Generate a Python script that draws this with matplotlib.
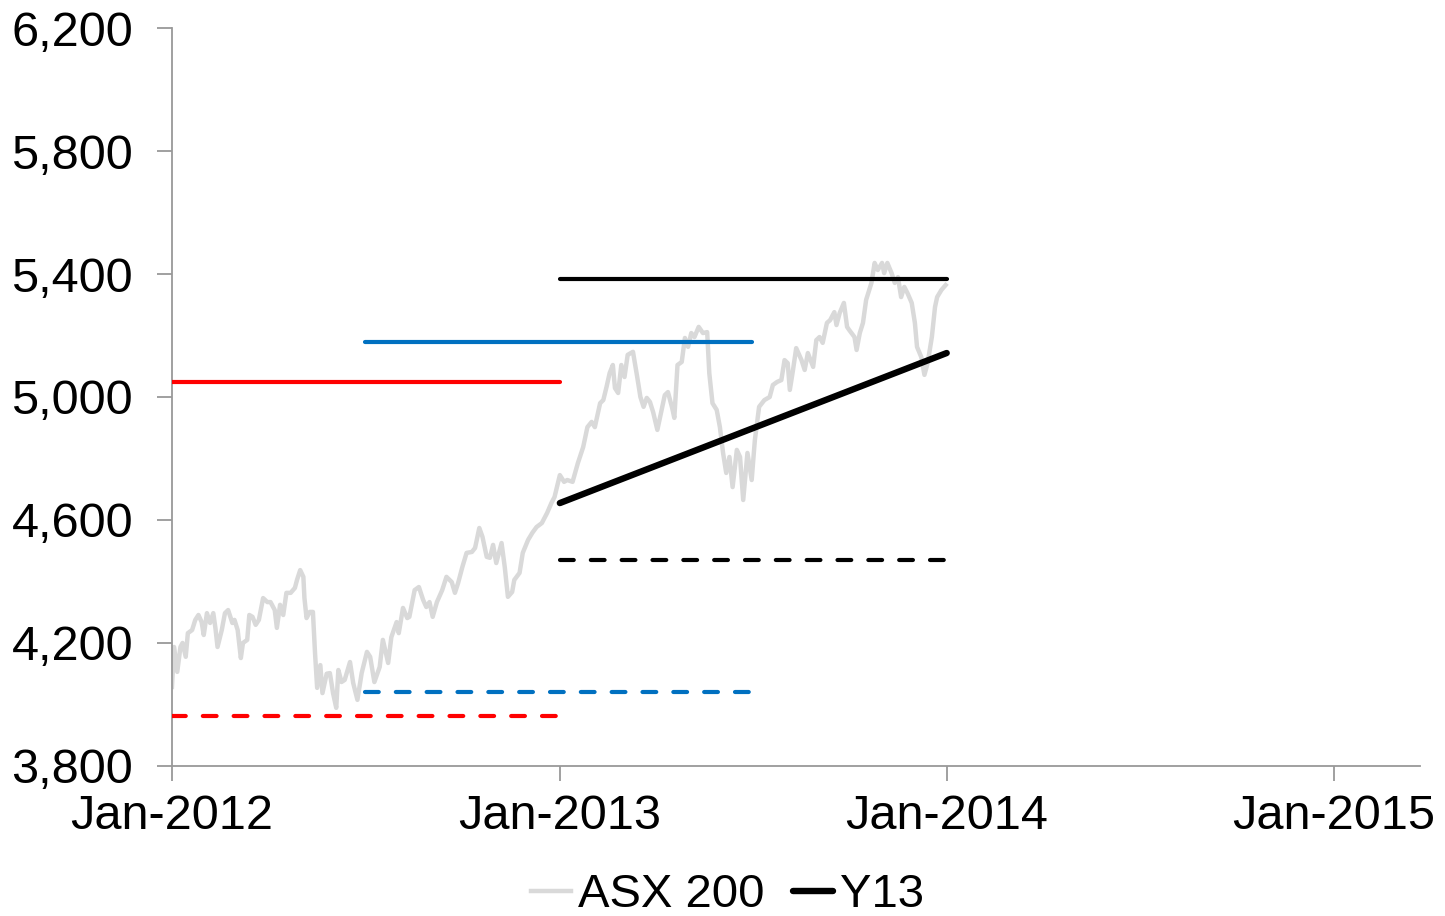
import matplotlib
matplotlib.use("Agg")
import matplotlib.pyplot as plt
import matplotlib.dates as mdates
import matplotlib.ticker as mticker
import pandas as pd

plt.rcParams['font.family'] = ['Liberation Sans', 'DejaVu Sans']

# ASX 200 index (days since 2012-01-01, level)
asx_days = [0, 2, 5, 8, 10, 13, 15, 19, 22, 25, 28, 30, 33, 36, 39, 41, 43, 47, 50, 53,
            57, 59, 62, 65, 67, 71, 73, 76, 79, 82, 86, 90, 93, 97, 99, 102, 105, 108, 112, 116,
            118, 121, 124, 125, 127, 130, 133, 135, 137, 140, 142, 146, 149, 152, 155, 157, 160, 163, 168, 171,
            175, 179, 184, 187, 191, 196, 199, 204, 207, 212, 214, 218, 222, 224, 229, 233, 237, 240, 243, 246,
            250, 255, 259, 264, 267, 270, 274, 278, 283, 286, 290, 293, 297, 300, 303, 306, 311, 314, 317, 321,
            323, 328, 331, 336, 340, 344, 349, 354, 358, 361, 366, 370, 373, 378, 383, 388, 392, 396, 399, 404,
            407, 410, 413, 416, 418, 421, 424, 427, 430, 435, 439, 442, 445, 448, 451, 454, 458, 462, 465, 468,
            472, 474, 477, 481, 484, 487, 490, 493, 497, 501, 505, 507, 510, 514, 517, 520, 523, 526, 529, 533,
            536, 539, 543, 547, 550, 554, 559, 564, 567, 571, 575, 578, 581, 583, 586, 589, 594, 597, 600, 605,
            608, 611, 614, 618, 621, 625, 627, 630, 634, 637, 639, 644, 646, 649, 652, 655, 660, 663, 666, 670,
            672, 675, 679, 682, 685, 688, 691, 694, 698, 701, 703, 707, 710, 713, 717, 720, 722, 726, 730]
asx_values = [4057, 4187, 4106, 4187, 4200, 4155, 4232, 4242, 4275, 4291, 4268, 4226, 4297, 4265, 4297, 4249, 4187, 4242, 4297, 4307,
              4265, 4275, 4242, 4151, 4200, 4210, 4291, 4285, 4259, 4275, 4346, 4333, 4333, 4307, 4249, 4324, 4291, 4363, 4363, 4379,
              4405, 4437, 4415, 4346, 4281, 4301, 4301, 4167, 4054, 4128, 4037, 4100, 4102, 4037, 3989, 4112, 4073, 4080, 4138, 4070,
              4015, 4102, 4171, 4155, 4073, 4122, 4210, 4135, 4219, 4268, 4232, 4314, 4281, 4285, 4372, 4382, 4340, 4317, 4333, 4285,
              4333, 4372, 4415, 4398, 4363, 4395, 4447, 4493, 4496, 4509, 4574, 4545, 4480, 4477, 4519, 4460, 4525, 4447, 4350, 4366,
              4405, 4428, 4493, 4535, 4558, 4577, 4590, 4623, 4655, 4675, 4746, 4724, 4730, 4724, 4785, 4837, 4902, 4919, 4902, 4980,
              4990, 5032, 5078, 5104, 5029, 5013, 5104, 5065, 5137, 5147, 5065, 5000, 4968, 4997, 4984, 4951, 4893, 4958, 5006, 5016,
              4964, 4932, 5104, 5114, 5192, 5163, 5208, 5195, 5228, 5208, 5211, 5078, 4980, 4958, 4902, 4818, 4753, 4805, 4707, 4828,
              4805, 4665, 4818, 4730, 4860, 4968, 4990, 5000, 5039, 5049, 5055, 5120, 5110, 5023, 5088, 5159, 5120, 5088, 5143, 5098,
              5185, 5195, 5176, 5241, 5250, 5276, 5234, 5273, 5306, 5228, 5218, 5195, 5153, 5208, 5241, 5316, 5371, 5436, 5413, 5436,
              5403, 5436, 5403, 5371, 5390, 5325, 5358, 5338, 5306, 5241, 5163, 5130, 5072, 5110, 5195, 5293, 5325, 5348, 5364]

# Y13 trend line
y13_dates = ["2013-01-01", "2014-01-01"]
y13_values = [4655, 5143]

# Forecast ranges: (start, end, high, low, colour)
range_start = ["2012-01-01", "2012-07-01", "2013-01-01"]
range_end = ["2013-01-01", "2013-07-01", "2014-01-01"]
range_high = [5050, 5180, 5385]
range_low = [3962, 4040, 4470]
range_colors = ["#ff0000", "#0070c0", "#000000"]

x_ticks = ["2012-01-01", "2013-01-01", "2014-01-01", "2015-01-01"]

fig = plt.figure(figsize=(14.45, 9.16), dpi=100)
ax = fig.add_axes([0.119, 0.1638, 0.864, 0.8056])

base = pd.Timestamp("2012-01-01")
asx_dates = [base + pd.Timedelta(days=d) for d in asx_days]
ax.plot(asx_dates, asx_values, color="#d9d9d9", lw=3.2, label="ASX 200", zorder=2,
        solid_joinstyle="round")

for s, e, hi, lo, c in zip(range_start, range_end, range_high, range_low, range_colors):
    xs = [pd.Timestamp(s), pd.Timestamp(e)]
    ax.plot(xs, [hi, hi], color=c, lw=3.0, solid_capstyle="round", zorder=3)
    ax.plot(xs, [lo, lo], color=c, lw=3.0, dashes=(3.3, 4.1), dash_capstyle="round", zorder=3)

ax.plot(pd.to_datetime(y13_dates), y13_values, color="#000000", lw=4.6,
        solid_capstyle="round", label="Y13", zorder=4)

ax.set_ylim(3800, 6200)
ax.set_yticks(range(3800, 6201, 400))
ax.yaxis.set_major_formatter(mticker.FuncFormatter(lambda v, p: f"{int(v):,}"))
ax.set_xlim(pd.Timestamp("2012-01-01"), pd.Timestamp("2015-03-24"))
ax.set_xticks(pd.to_datetime(x_ticks))
ax.xaxis.set_major_formatter(mdates.DateFormatter("%b-%Y"))

for side in ["top", "right"]:
    ax.spines[side].set_visible(False)
for side in ["left", "bottom"]:
    ax.spines[side].set_color("#999999")
    ax.spines[side].set_linewidth(1.3)
ax.tick_params(axis="both", which="major", length=11, width=1.3, color="#999999",
               labelsize=35, labelcolor="#000000")
ax.tick_params(axis="y", pad=17)
ax.tick_params(axis="x", pad=9)

leg = ax.legend(loc="upper center", bbox_to_anchor=(0.445, -0.139), ncol=2, frameon=False,
                fontsize=34, handlelength=0.85, handletextpad=0.15, columnspacing=0.6,
                borderaxespad=0, borderpad=0.1)

fig.savefig("out.png", dpi=100)
